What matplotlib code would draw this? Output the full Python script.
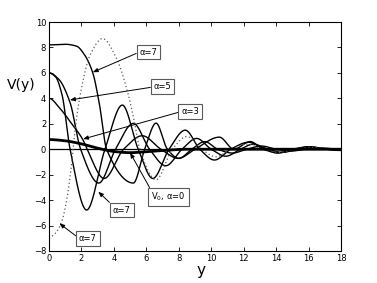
import numpy as np
import matplotlib
matplotlib.use("Agg")
import matplotlib.pyplot as plt

# ---- data (key points: start, zeros, extrema) ----
a7_top_y = [0, 1.0, 1.7, 2.2, 2.7, 3.1, 3.55, 5.2, 5.9, 6.6, 7.3, 8.0, 8.8, 9.6, 10.4, 11.3, 12.2, 13.1, 14.0, 14.9, 15.8, 16.7, 18]
a7_top_v = [8.2, 8.25, 8.1, 7.4, 6.0, 3.6, 0, -2.66, 0, 2.05, 0, -0.72, 0, 0.6, 0, -0.3, 0, 0.25, 0, -0.15, 0, 0.1, 0]

a7_low_y = [0, 0.4, 0.8, 1.3, 2.32, 3.45, 4.52, 5.5, 6.4, 7.4, 8.4, 9.3, 10.2, 11.2, 12.3, 13.3, 14.1, 15.1, 16.1, 17.1, 18]
a7_low_v = [6.0, 5.7, 4.3, 0, -4.78, 0, 3.47, 0, -2.3, 0, 1.5, 0, -0.85, 0, 0.55, 0, -0.3, 0, 0.2, 0, -0.1]

a5_y = [0, 0.6, 1.29, 1.95, 3.07, 4.1, 5.2, 6.2, 7.2, 8.2, 9.1, 10.0, 10.9, 11.8, 12.6, 13.5, 14.4, 15.3, 16.2, 17.1, 18]
a5_v = [6.0, 5.5, 3.7, 0, -2.66, 0, 2.03, 0, -1.3, 0, 0.85, 0, -0.55, 0, 0.4, 0, -0.25, 0, 0.15, 0, -0.08]

a3_y = [0, 0.68, 1.4, 2.1, 2.35, 3.4, 4.6, 5.75, 6.9, 7.97, 9.0, 10.5, 11.4, 12.4, 13.2, 14.1, 15.0, 16.0, 17.0, 18]
a3_v = [4.0, 3.2, 2.0, 0.72, 0, -2.3, 0, 1.06, 0, -0.72, 0, 0.95, 0, 0.6, 0, -0.28, 0, 0.2, 0, 0.0]

dot_y = [0, 0.4, 0.78, 1.09, 1.4, 1.6, 2.1, 2.53, 3.3, 4.16, 4.78, 5.2, 5.6, 6.6, 7.6, 8.5, 9.4, 10.3, 11.2, 12.2, 13.2, 14.2, 15.2, 16.2, 18]
dot_v = [-7.0, -6.6, -5.7, -4.0, -1.1, 1.5, 5.4, 7.4, 8.7, 7.15, 4.8, 2.55, 0, -2.4, 0, 1.0, 0, -0.6, 0, 0.4, 0, -0.25, 0, 0.15, 0]

v0_y = [0, 1.0, 2.0, 3.1, 4.0, 5.0, 6.0, 7.0, 8.5, 10, 12, 14, 16, 18]
v0_v = [0.76, 0.66, 0.42, 0.05, -0.18, -0.27, -0.2, -0.1, 0.0, 0.0, 0.0, 0.0, 0.0, 0.0]

x_ticks = [0, 2, 4, 6, 8, 10, 12, 14, 16, 18]
y_ticks = [-8, -6, -4, -2, 0, 2, 4, 6, 8, 10]


def smooth(x, y, flat_start=True, n=1400):
    """Monotone cubic (Fritsch-Carlson) curve through the read points."""
    x = np.asarray(x, float)
    y = np.asarray(y, float)
    h = np.diff(x)
    d = np.diff(y) / h
    m = np.zeros_like(y)
    m[0], m[-1] = (0.0 if flat_start else d[0]), 0.0
    for k in range(1, len(x) - 1):
        if d[k - 1] * d[k] <= 0:
            m[k] = 0.0
        else:
            w1 = 2 * h[k] + h[k - 1]
            w2 = h[k] + 2 * h[k - 1]
            m[k] = (w1 + w2) / (w1 / d[k - 1] + w2 / d[k])
    xx = np.linspace(x[0], x[-1], n)
    idx = np.clip(np.searchsorted(x, xx) - 1, 0, len(x) - 2)
    t = (xx - x[idx]) / h[idx]
    h00 = 2 * t**3 - 3 * t**2 + 1
    h10 = t**3 - 2 * t**2 + t
    h01 = -2 * t**3 + 3 * t**2
    h11 = t**3 - t**2
    yy = h00 * y[idx] + h10 * h[idx] * m[idx] + h01 * y[idx + 1] + h11 * h[idx] * m[idx + 1]
    return xx, yy


fig = plt.figure(figsize=(3.77, 2.83), dpi=100)
ax = fig.add_axes([49 / 377, 1 - 251 / 283, (341 - 49) / 377, (251 - 22) / 283])

ax.axhline(0, color="k", lw=0.9)
for xs, vs in [(a7_top_y, a7_top_v), (a7_low_y, a7_low_v), (a5_y, a5_v), (a3_y, a3_v)]:
    ax.plot(*smooth(xs, vs), color="k", lw=1.0)
ax.plot(*smooth(dot_y, dot_v, flat_start=False), color="0.35", lw=0.9, ls=(0, (1, 2)))
ax.plot(*smooth(v0_y, v0_v), color="k", lw=2.0)

ax.set_xlim(0, 18)
ax.set_ylim(-8, 10)
ax.set_xticks(x_ticks)
ax.set_yticks(y_ticks)
ax.tick_params(direction="in", top=True, right=True, length=3, width=0.6, labelsize=6, pad=2)
for s in ax.spines.values():
    s.set_linewidth(0.8)

box = dict(boxstyle="square,pad=0.35", fc="white", ec="0.35", lw=0.8)
arr = dict(arrowstyle="-|>,head_length=0.5,head_width=0.2", color="k", lw=0.7, shrinkA=0, shrinkB=0)

def note(text, tip, pos, relpos=(0, 0.5)):
    a = dict(arr)
    a["relpos"] = relpos
    ax.annotate(text, xy=tip, xytext=pos, fontsize=6, ha="center", va="center",
                bbox=box, arrowprops=a)

note("α=7", (2.7, 6.05), (6.13, 7.64))
note("α=5", (1.29, 3.87), (7.0, 4.9))
note("α=3", (2.1, 0.8), (8.7, 2.96))
note("V$_0$, α=0", (5.0, -0.27), (7.37, -3.76), relpos=(0, 1))
note("α=7", (3.04, -3.34), (4.48, -4.78), relpos=(0, 1))
note("α=7", (0.64, -5.83), (2.4, -7.0))

fig.text(21 / 377, 1 - 85 / 283, "V(y)", ha="center", va="center", fontsize=10)
fig.text(201 / 377, 1 - 270 / 283, "y", ha="center", va="center", fontsize=11)

fig.savefig("out.png", dpi=100)
